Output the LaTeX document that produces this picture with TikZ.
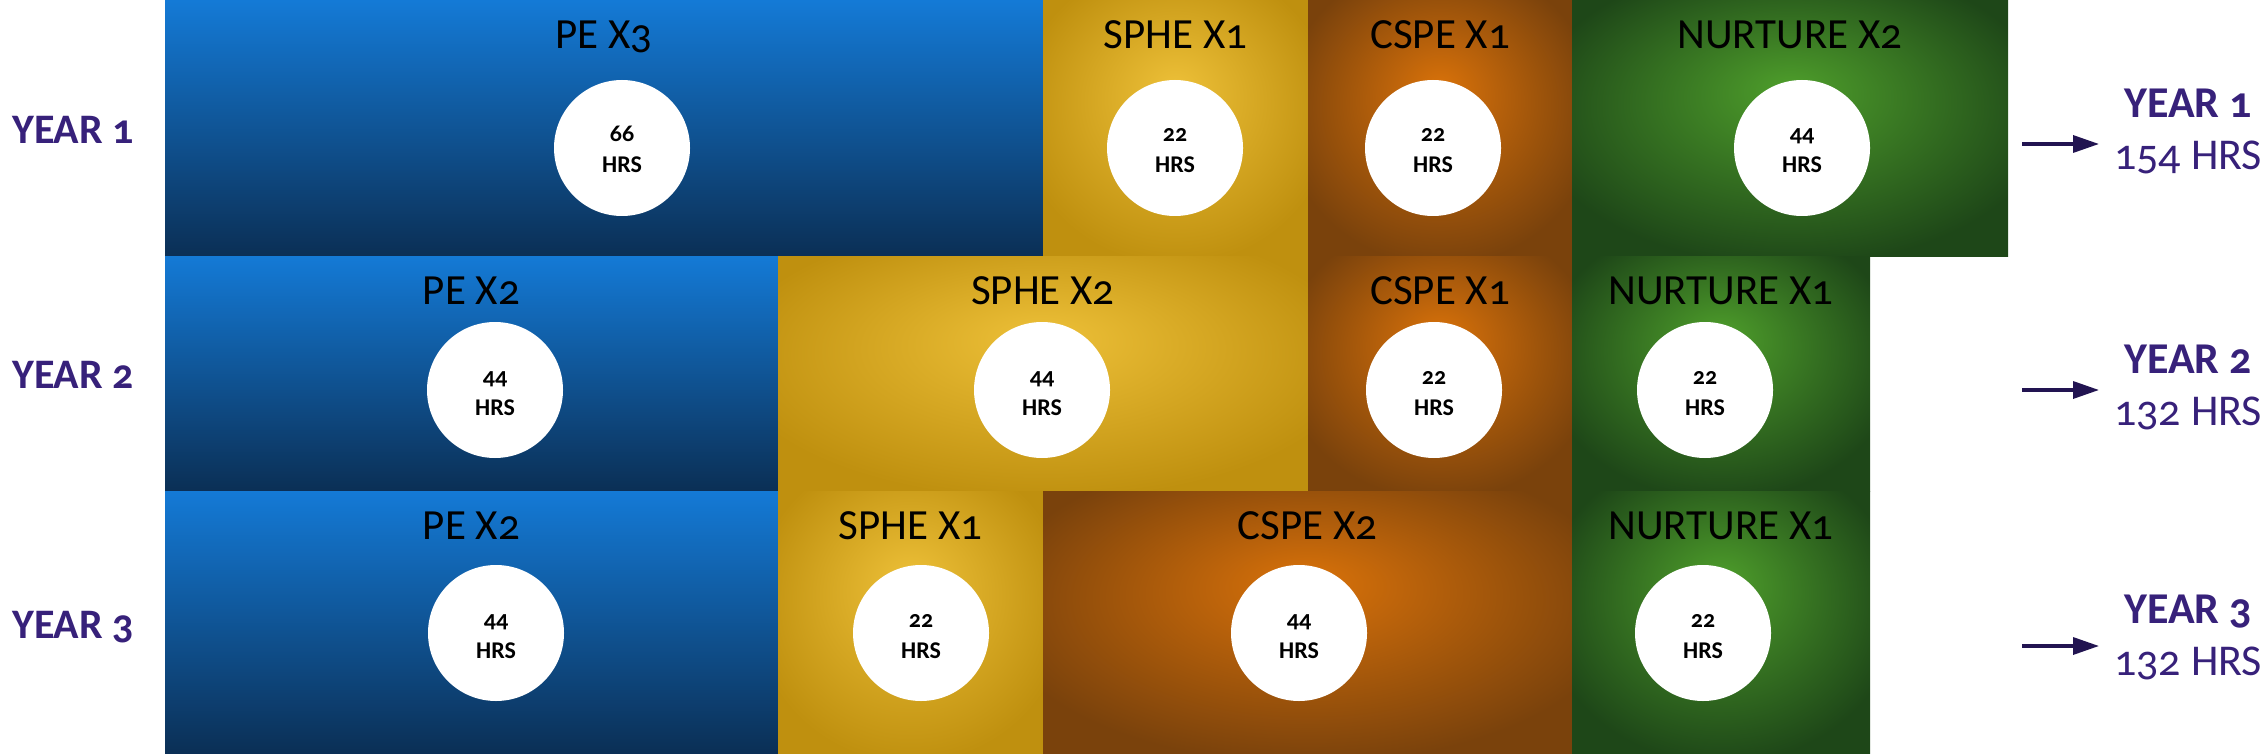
\documentclass[tikz,border=0pt]{standalone}
\usepackage{fontspec}
\setmainfont{Carlito}[Numbers=OldStyle]
\usetikzlibrary{arrows.meta}
\definecolor{peTop}{HTML}{147AD6}
\definecolor{peBot}{HTML}{0B2F55}
\definecolor{spheIn}{HTML}{EDC038}
\definecolor{spheOut}{HTML}{BF900F}
\definecolor{cspeIn}{HTML}{D9720A}
\definecolor{cspeOut}{HTML}{7A420C}
\definecolor{nurIn}{HTML}{4E9E2B}
\definecolor{nurOut}{HTML}{1E4718}
\definecolor{yearc}{HTML}{37217A}
\definecolor{arrowc}{HTML}{221451}
\pgfdeclareradialshading{spheShade}{\pgfpoint{0bp}{8bp}}{color(0bp)=(spheIn); color(30bp)=(spheOut); color(50bp)=(spheOut)}
\pgfdeclareradialshading{cspeShade}{\pgfpoint{0bp}{8bp}}{color(0bp)=(cspeIn); color(30bp)=(cspeOut); color(50bp)=(cspeOut)}
\pgfdeclareradialshading{nurShade}{\pgfpoint{0bp}{8bp}}{color(0bp)=(nurIn); color(30bp)=(nurOut); color(50bp)=(nurOut)}
\tikzset{
  peFill/.style={top color=peTop, bottom color=peBot},
  spheFill/.style={shading=spheShade},
  cspeFill/.style={shading=cspeShade},
  nurFill/.style={shading=nurShade},
  ttl/.style={anchor=base, inner sep=0pt, text=black, font=\fontsize{21.5}{24}\selectfont},
  circ/.style={circle, fill=white, minimum size=68pt, inner sep=0pt},
  hrsnum/.style={anchor=base, inner sep=0pt, text=black, font=\bfseries\fontsize{12}{14}\selectfont},
  yearL/.style={anchor=base, inner sep=0pt, text=yearc, font=\bfseries\fontsize{21}{24}\selectfont},
  yearR/.style={anchor=base, inner sep=0pt, text=yearc, font=\bfseries\fontsize{22}{24}\selectfont},
  totR/.style={anchor=base, inner sep=0pt, text=yearc, font=\fontsize{22}{24}\selectfont},
  tot/.style={-{Triangle[length=13pt,width=8.5pt]}, line width=1.7pt, draw=arrowc}
}
\newcommand\rowcy{0}
\newcommand\cell[9]{%
  \shade[#6] (#2,#4) rectangle (#3,#5);
  \node[ttl] (#1-t) at ({(#2+#3)/2},{#4+48}) {#7};
  \node[circ] (#1-c) at (#8,\rowcy) {};
  \node[hrsnum] (#1-n) at ([yshift=3pt]#1-c.center) {#9};
  \node[hrsnum] (#1-h) at ([yshift=-12.5pt]#1-c.center) {HRS};
}
\begin{document}
\begin{tikzpicture}[x=0.5pt,y=-0.5pt]
\useasboundingbox (0,0) rectangle (2262,754);
% row 1
\renewcommand\rowcy{148}
\cell{r1pe}{165}{1043}{1}{256}{peFill}{PE X3}{622}{66}
\cell{r1sp}{1043}{1308}{1}{256}{spheFill}{SPHE X1}{1175}{22}
\cell{r1cs}{1308}{1572}{1}{256}{cspeFill}{CSPE X1}{1433}{22}
\cell{r1nu}{1572}{2008}{1}{256}{nurFill}{NURTURE X2}{1802}{44}
% row 2
\renewcommand\rowcy{390}
\cell{r2pe}{165}{778}{256}{491}{peFill}{PE X2}{495}{44}
\cell{r2sp}{778}{1308}{256}{491}{spheFill}{SPHE X2}{1042}{44}
\cell{r2cs}{1308}{1572}{256}{491}{cspeFill}{CSPE X1}{1434}{22}
\cell{r2nu}{1572}{1870}{256}{491}{nurFill}{NURTURE X1}{1705}{22}
% row 3
\renewcommand\rowcy{633}
\cell{r3pe}{165}{778}{491}{754}{peFill}{PE X2}{496}{44}
\cell{r3sp}{778}{1043}{491}{754}{spheFill}{SPHE X1}{921}{22}
\cell{r3cs}{1043}{1572}{491}{754}{cspeFill}{CSPE X2}{1299}{44}
\cell{r3nu}{1572}{1870}{491}{754}{nurFill}{NURTURE X1}{1703}{22}
% left labels
\node[yearL] (l1) at (73,144) {YEAR 1};
\node[yearL] (l2) at (73,388) {YEAR 2};
\node[yearL] (l3) at (73,638) {YEAR 3};
% right labels
\node[yearR] (y1) at (2188,118) {YEAR 1};
\node[totR] (h1) at (2188,170) {154 HRS};
\node[yearR] (y2) at (2188,373) {YEAR 2};
\node[totR] (h2) at (2188,425) {132 HRS};
\node[yearR] (y3) at (2188,623) {YEAR 3};
\node[totR] (h3) at (2188,675) {132 HRS};
% arrows
\coordinate (a1s) at (2022,144); \coordinate (a1e) at (2099,144);
\coordinate (a2s) at (2022,390); \coordinate (a2e) at (2099,390);
\coordinate (a3s) at (2022,646); \coordinate (a3e) at (2099,646);
\draw[tot] (a1s) -- (a1e);
\draw[tot] (a2s) -- (a2e);
\draw[tot] (a3s) -- (a3e);
\end{tikzpicture}
\end{document}
